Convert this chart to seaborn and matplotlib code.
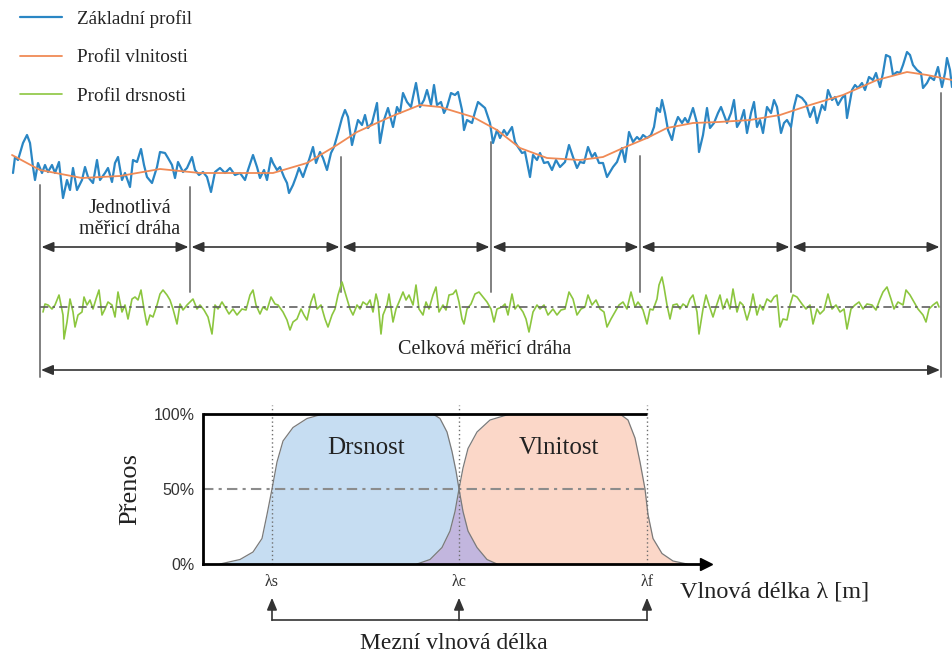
import numpy as np
import pandas as pd
import matplotlib
matplotlib.use("Agg")
import matplotlib.pyplot as plt
import seaborn as sns

sns.set_style("white")
plt.rcParams["font.family"] = ["Liberation Serif", "DejaVu Serif"]

# ---------------- data ----------------
# primary profile: (position, height reading; larger = lower)
base_profile = [
    (13,173),(15,157),(18,160),(23,143),(27,135),(30,143),(33,167),(35,180),(38,163),(42,173),
    (45,165),(48,172),(52,165),(55,173),(59,162),(63,198),(67,180),(70,190),(73,168),(77,190),
    (82,180),(85,167),(88,177),(93,183),(97,160),(100,180),(105,173),(108,168),(112,182),(115,163),
    (118,157),(122,180),(125,173),(130,187),(133,160),(137,162),(141,149),(144,165),(147,177),(152,183),
    (157,167),(160,152),(165,153),(168,158),(172,165),(175,178),(178,162),(183,172),(187,168),(192,157),
    (195,170),(199,175),(203,172),(207,177),(211,192),(215,172),(220,168),(225,173),(230,168),(235,175),
    (240,173),(245,180),(248,170),(253,155),(257,167),(260,178),(264,170),(267,180),(271,158),(273,163),
    (277,170),(280,167),(284,177),(287,183),(289,193),(293,185),(296,177),(299,168),(303,177),(306,168),
    (309,160),(313,147),(316,163),(320,152),(323,158),(327,170),(331,153),(334,147),(338,133),(342,118),
    (345,110),(348,117),(352,145),(355,132),(358,120),(362,125),(365,115),(368,128),(372,123),(377,103),
    (380,143),(384,120),(388,108),(393,127),(397,107),(400,113),(403,93),(407,102),(411,107),(413,97),
    (416,83),(420,107),(424,100),(427,90),(431,105),(434,85),(437,105),(441,102),(444,113),(447,107),
    (451,93),(455,95),(458,92),(462,110),(464,130),(467,120),(472,123),(475,112),(478,102),
    (485,108),(490,123),(493,143),(497,130),(500,138),(504,130),(507,135),(512,127),(515,142),(518,147),
    (522,153),(525,152),(530,177),(533,155),(537,160),(540,153),(544,163),(548,162),(552,170),(556,160),
    (560,167),(565,162),(569,145),(573,157),(577,168),(580,162),(584,163),(588,147),(592,157),(595,153),
    (599,163),(603,163),(607,177),(610,172),(613,167),(617,162),(622,148),(625,162),(629,132),(633,142),
    (637,137),(640,140),(643,135),(647,138),(651,135),(654,127),(657,108),(660,112),(662,100),(665,113),
    (668,130),(672,140),(675,125),(678,117),(682,123),(685,118),(688,123),(693,108),(697,123),(699,152),
    (703,135),(707,108),
    (710,128),(714,123),(718,113),(721,107),(724,115),(727,123),(731,113),(734,100),(737,127),(741,120),
    (744,110),(747,133),(751,113),(754,102),(757,127),(760,120),(763,133),(767,107),(771,113),(774,100),
    (777,107),(781,133),(784,123),(787,120),(791,127),(794,107),(797,95),(802,98),(806,103),(810,117),
    (814,107),(817,123),(822,105),(825,110),(828,90),(832,100),(835,97),(838,105),(842,98),(845,95),
    (847,118),(852,90),(855,85),(858,88),(862,83),(865,90),(869,77),(873,80),(876,73),(880,87),
    (883,73),(886,55),(890,57),(893,75),(897,72),(900,73),(903,65),(907,52),(910,55),(913,65),
    (917,70),(921,73),(923,88),(927,83),(930,77),(934,80),(938,67),(942,87),(945,73),(947,58),
    (950,70),(952,87),
]

waviness_x = [12, 40, 82, 120, 160, 200, 240, 273, 307, 337, 357, 390, 420, 440, 473, 497, 520,
              547, 580, 603, 623, 647, 667, 693, 719, 750, 780, 810, 843, 877, 907, 927, 952]
waviness_y = [155, 170, 178, 176, 169, 173, 173, 173, 163, 145, 132, 117, 105, 107, 117, 130, 148,
              158, 160, 157, 148, 138, 128, 123, 122, 120, 115, 105, 95, 80, 72, 75, 80]

roughness_profile = [
    (43,312),(45,304),(48,305),(52,309),(55,305),(59,295),(63,315),(64,339),(67,322),(70,299),
    (73,312),(75,327),(78,315),(82,312),(84,297),(87,305),(90,300),(93,309),(96,299),(99,290),
    (102,315),(105,309),(108,302),(112,305),(115,317),(118,292),(122,312),(125,305),(128,319),(132,299),
    (135,297),(138,300),(141,290),(144,309),(147,325),(150,315),(153,317),(157,305),(160,294),(163,290),
    (167,295),(170,300),(173,309),(177,324),(180,304),(183,310),(187,305),(190,302),(193,299),(197,309),
    (200,305),(204,310),(208,317),(212,334),(215,305),(218,309),(222,302),(225,307),(229,314),(233,309),
    (237,315),(242,309),(246,310),(250,295),(253,290),(256,305),(260,314),(263,307),(267,310),(271,297),
    (275,304),(278,305),(283,312),(287,320),(290,330),(293,322),(297,319),(301,309),(304,315),(307,320),
    (311,302),(314,294),(317,309),(321,305),(325,319),(328,327),(332,315),(335,309),(338,295),(342,282),
    (347,299),(350,309),(353,315),(357,305),(360,309),(363,302),(367,305),(370,300),(373,312),(376,294),
    (378,302),(381,334),(383,315),(387,305),(389,294),(393,322),(396,309),(399,302),(403,292),(406,300),
    (409,295),(413,305),(416,285),(419,309),(423,315),(426,302),(429,309),(433,295),(436,287),(439,312),
    (443,305),(446,310),(449,295),(453,294),(456,290),(459,302),(462,319),(464,324),(467,309),(471,304),
    (475,294),(479,292),(483,297),(487,302),(491,309),(494,322),(497,309),(502,307),(505,304),(508,315),
    (512,294),(515,309),(518,305),(523,312),(526,319),(529,332),(533,312),(537,305),(540,309),(544,305),
    (548,315),(553,309),(557,315),(561,310),(565,309),(569,292),(573,299),(577,315),(581,309),(585,307),
    (588,295),(592,305),(596,300),(600,309),(604,312),(607,327),(611,319),(615,312),(619,305),(623,302),
    (627,309),(631,292),(635,307),(638,302),
    (640,305),(643,310),(647,324),(650,309),(653,310),(657,299),(659,285),(662,277),(664,287),(667,305),
    (670,319),(673,305),(677,304),(680,309),(683,304),(687,307),(690,299),(693,295),(697,312),(699,334),
    (703,309),(706,295),(709,305),(713,317),(716,307),(720,295),(723,309),(727,299),(730,309),(733,289),
    (737,312),(740,302),(743,305),(747,320),(750,310),(753,294),(757,315),(760,305),(763,310),(767,299),
    (771,302),(774,297),(777,295),(780,327),(783,319),(787,320),(790,305),(793,295),(797,297),(802,304),
    (806,309),(810,305),(813,324),(817,309),(820,314),(824,310),(828,294),(832,309),(836,305),(840,312),
    (844,309),(847,329),(851,309),(855,305),(859,302),(863,309),(867,304),(872,305),(876,310),(880,299),
    (883,292),(887,287),(891,299),(894,309),(898,302),(903,305),(906,290),(910,295),(914,302),(918,309),
    (923,315),(926,322),(929,309),(933,305),(937,302),(939,307),
]
roughness_mean = 307

sampling_edges = [40, 190, 341, 491, 640, 791, 941]

legend_labels = ["Základní profil", "Profil vlnitosti", "Profil drsnosti"]

# transmission characteristic
rough_x = [220, 240, 253, 262, 267, 272, 277, 283, 293, 307, 323, 433, 440, 447, 452, 456, 459,
           463, 468, 477, 487, 497]
rough_t = [0, 3, 8, 17, 33, 50, 68, 82, 91, 97, 100, 100, 97, 88, 75, 62, 50, 35, 22, 11, 3, 0]
wavi_x = [417, 430, 442, 450, 455, 459, 463, 468, 477, 490, 510, 620, 628, 635, 640, 645, 648,
          653, 662, 673, 687]
wavi_t = [0, 3, 11, 22, 35, 50, 64, 77, 88, 96, 100, 100, 96, 84, 68, 50, 33, 17, 7, 2, 0]
cutoffs = [272, 459, 647]
cutoff_labels = ["λs", "λc", "λf"]
pct_ticks = [0, 50, 100]
pct_labels = ["0%", "50%", "100%"]

# ---------------- colours ----------------
BLUE = "#2a86c4"
ORANGE = "#f08a55"
GREEN = "#8cc63f"
GRAY = "#808080"
DARK = "#333333"
TXT = "#222222"

# ---------------- figure ----------------
fig = plt.figure(figsize=(9.52, 6.55), dpi=100)
ax = fig.add_axes([0, 0, 1, 1])

df_base = pd.DataFrame(base_profile, columns=["x", "y"])
df_wav = pd.DataFrame({"x": waviness_x, "y": waviness_y})
df_rough = pd.DataFrame(roughness_profile, columns=["x", "y"])

sns.lineplot(data=df_base, x="x", y="y", ax=ax, color=BLUE, lw=1.6, sort=False,
             estimator=None, label=legend_labels[0], zorder=3)
sns.lineplot(data=df_wav, x="x", y="y", ax=ax, color=ORANGE, lw=1.3, sort=False,
             estimator=None, label=legend_labels[1], zorder=4)
sns.lineplot(data=df_rough, x="x", y="y", ax=ax, color=GREEN, lw=1.2, sort=False,
             estimator=None, label=legend_labels[2], zorder=3)

ax.plot([sampling_edges[0], sampling_edges[-1]], [roughness_mean, roughness_mean],
        color="#606060", lw=1.2, dashes=[5, 2.5, 1.5, 2.5], zorder=5)

# boundary lines of the sampling lengths
tops = np.interp(sampling_edges, waviness_x, waviness_y) + 15
for i, (e, t) in enumerate(zip(sampling_edges, tops)):
    bottom = 377 if i in (0, len(sampling_edges) - 1) else 292
    ax.plot([e, e], [t, bottom], color=GRAY, lw=1.4, zorder=2)

arrow_kw = dict(arrowstyle="<|-|>,head_length=0.6,head_width=0.25", color=DARK, lw=1.2,
                shrinkA=0, shrinkB=0, mutation_scale=12)
for a, b in zip(sampling_edges[:-1], sampling_edges[1:]):
    ax.annotate("", xy=(b - 1.5, 247), xytext=(a + 1.5, 247), arrowprops=arrow_kw)
ax.annotate("", xy=(sampling_edges[-1] - 1, 370), xytext=(sampling_edges[0] + 1, 370),
            arrowprops=arrow_kw)

ax.text(130, 219, "Jednotlivá\nměřicí dráha", ha="center", va="center", fontsize=14.5,
        linespacing=1.1, color=TXT)
ax.text(485, 350, "Celková měřicí dráha", ha="center", va="center", fontsize=14.5,
        color=TXT)

ax.set_xlim(0, 952)
ax.set_ylim(655, 0)
ax.axis("off")

handles, labels = ax.get_legend_handles_labels()
leg = ax.legend(handles, labels, loc="upper left", bbox_to_anchor=(20 / 952, 1 - 10 / 655),
                bbox_transform=fig.transFigure, frameon=False, fontsize=13.8, handlelength=2.2,
                handletextpad=0.78, labelspacing=1.1, borderpad=0, borderaxespad=0)
for t in leg.get_texts():
    t.set_color(TXT)

# ---------------- transmission chart ----------------
bx = fig.add_axes([203 / 952, 91 / 655, 509 / 952, 150 / 655])
bx.patch.set_alpha(0)

bx.fill_between(rough_x, rough_t, color="#c6ddf2", lw=0, zorder=1)
bx.fill_between(wavi_x, wavi_t, color="#fbd7c8", lw=0, zorder=1)
grid = np.linspace(wavi_x[0], rough_x[-1], 300)
overlap = np.minimum(np.interp(grid, rough_x, rough_t), np.interp(grid, wavi_x, wavi_t))
bx.fill_between(grid, overlap, color="#c2b6de", lw=0, zorder=2)

df_r = pd.DataFrame({"x": rough_x, "t": rough_t})
df_w = pd.DataFrame({"x": wavi_x, "t": wavi_t})
sns.lineplot(data=df_r, x="x", y="t", ax=bx, color="#7a7a7a", lw=0.9, sort=False,
             estimator=None, zorder=3)
sns.lineplot(data=df_w, x="x", y="t", ax=bx, color="#7a7a7a", lw=0.9, sort=False,
             estimator=None, zorder=3)

bx.plot([203, cutoffs[-1]], [50, 50], color="#8c8c8c", lw=1.5, dashes=[5, 2.5, 1.5, 2.5], zorder=4)
bx.vlines(cutoffs, 0, 106, colors="#6e6e6e", linestyles=(0, (1, 2)), lw=1.0, zorder=4,
          clip_on=False)
bx.hlines(100, 203, cutoffs[-1], colors="black", lw=2, zorder=5, clip_on=False)

bx.set_xlim(203, 712)
bx.set_ylim(0, 100)
for s in ("top", "right"):
    bx.spines[s].set_visible(False)
for s in ("left", "bottom"):
    bx.spines[s].set_linewidth(2)
    bx.spines[s].set_color("black")
    bx.spines[s].set_zorder(6)
bx.spines["bottom"].set_bounds(203, 704)
bx.plot([706], [0], marker=">", ms=8, color="black", clip_on=False, zorder=7)

bx.set_yticks(pct_ticks, pct_labels)
bx.set_xticks(cutoffs, cutoff_labels)
bx.tick_params(axis="both", length=0)
bx.tick_params(axis="y", pad=6)
bx.tick_params(axis="x", pad=7)
for lab in bx.get_yticklabels():
    lab.set_fontfamily(["Liberation Sans", "DejaVu Sans"])
    lab.set_fontsize(11.5)
    lab.set_color("#333333")
for lab in bx.get_xticklabels():
    lab.set_fontsize(11.5)
    lab.set_color("#333333")
bx.set_xlabel("")
bx.set_ylabel("")

bx.text(366, 77, "Drsnost", ha="center", va="center", fontsize=18, color=TXT, zorder=6)
bx.text(559, 77, "Vlnitost", ha="center", va="center", fontsize=18, color=TXT, zorder=6)
bx.text((130 - 203) / 509, 0.5, "Přenos", rotation=90, ha="center", va="center",
        fontsize=19, color=TXT, transform=bx.transAxes)

xt = bx.get_xaxis_transform()
bx.text(680, -0.187, "Vlnová délka λ [m]", ha="left", va="center", fontsize=17.5,
        color=TXT, transform=xt)
for c in cutoffs:
    bx.annotate("", xy=(c, -0.225), xytext=(c, -0.375), xycoords=xt, textcoords=xt,
                arrowprops=dict(arrowstyle="-|>,head_length=0.6,head_width=0.25", color=DARK,
                                lw=1.2, shrinkA=0, shrinkB=0, mutation_scale=12))
bx.plot([cutoffs[0], cutoffs[-1]], [-0.375, -0.375], color=DARK, lw=1.2, transform=xt,
        clip_on=False)
bx.text(454, -0.527, "Mezní vlnová délka", ha="center", va="center", fontsize=17,
        color=TXT, transform=xt)

fig.savefig("out.png", dpi=100)
